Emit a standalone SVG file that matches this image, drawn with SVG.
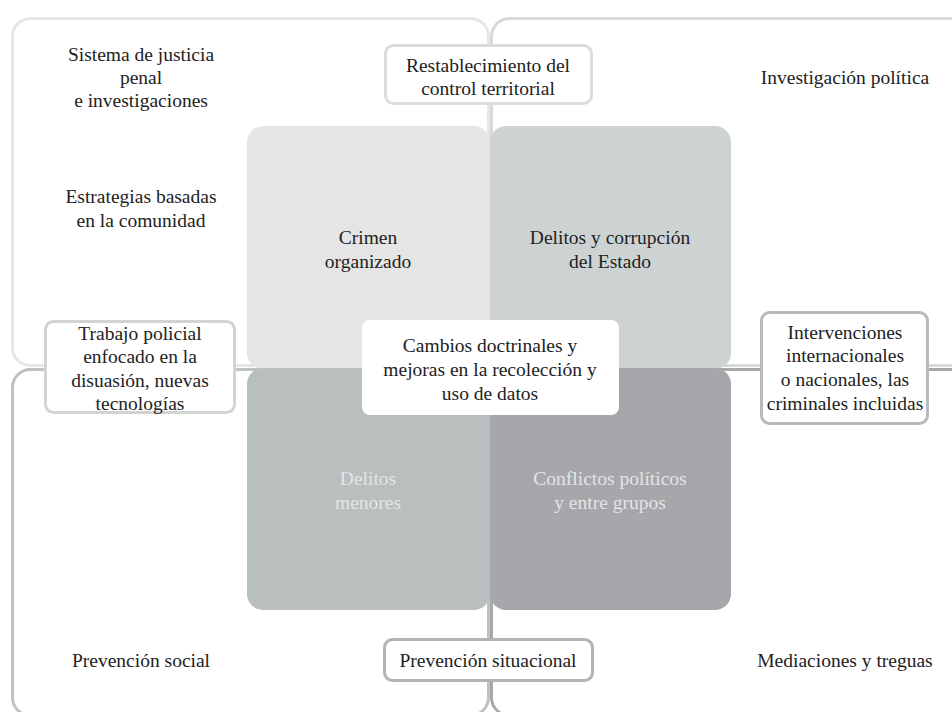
<svg xmlns="http://www.w3.org/2000/svg" width="952" height="712" viewBox="0 0 952 712">
<style>
.t text{font-family:"Liberation Serif","DejaVu Serif",serif;font-size:19.5px;fill:#222;text-anchor:middle}
.t text.lt{fill:#e2e5e5}
.lbl{fill:#fff;stroke-width:3}
.outer{fill:none;stroke-width:3}
</style>
<rect width="952" height="712" fill="#fff"/>
<g id="connectors">
<rect class="outer" x="12.5" y="18.5" width="476" height="347" rx="18" stroke="#e6e6e6"/>
<rect class="outer" x="491.5" y="18.5" width="490" height="347" rx="18" stroke="#d6dada"/>
<rect class="outer" x="12.5" y="369.5" width="476" height="346" rx="18" stroke="#bdc2c2"/>
<rect class="outer" x="491.5" y="369.5" width="490" height="346" rx="18" stroke="#a9a9ac"/>
</g>
<g class="t">
<g id="q-crimen"><rect x="247" y="126" width="243" height="243" rx="16" fill="#e5e5e5"/>
<text x="368" y="244">Crimen</text><text x="368" y="268">organizado</text></g>
<g id="q-estado"><rect x="490" y="126" width="241" height="243" rx="16" fill="#cdd3d3"/>
<text x="610" y="244">Delitos y corrupción</text><text x="610" y="268">del Estado</text></g>
<g id="q-menores"><rect x="247" y="368" width="243" height="242" rx="16" fill="#b9bfbe"/>
<text class="lt" x="368" y="485">Delitos</text><text class="lt" x="368" y="509">menores</text></g>
<g id="q-conflictos"><rect x="490" y="368" width="241" height="242" rx="16" fill="#a7a6ab"/>
<text class="lt" x="610" y="485">Conflictos políticos</text><text class="lt" x="610" y="509">y entre grupos</text></g>
<g id="t-justicia"><text x="141" y="61">Sistema de justicia</text><text x="141" y="84">penal</text><text x="141" y="107">e investigaciones</text></g>
<g id="t-comunidad"><text x="141" y="203">Estrategias basadas</text><text x="141" y="227">en la comunidad</text></g>
<g id="t-politica"><text x="845" y="84">Investigación política</text></g>
<g id="t-social"><text x="141" y="667">Prevención social</text></g>
<g id="t-mediaciones"><text x="845" y="667">Mediaciones y treguas</text></g>
<g id="b-territorial"><rect class="lbl" x="385.5" y="45.5" width="206" height="58" rx="8" stroke="#dcdcdc"/>
<text x="488" y="72">Restablecimiento del</text><text x="488" y="95">control territorial</text></g>
<g id="b-policial"><rect class="lbl" x="45.5" y="321.5" width="189" height="91" rx="8" stroke="#d2d4d4"/>
<text x="140" y="340">Trabajo policial</text><text x="140" y="363">enfocado en la</text><text x="140" y="387">disuasión, nuevas</text><text x="140" y="410">tecnologías</text></g>
<g id="b-cambios"><rect x="362" y="320" width="257" height="95" rx="8" fill="#fff"/>
<text x="490" y="352">Cambios doctrinales y</text><text x="490" y="376">mejoras en la recolección y</text><text x="490" y="400">uso de datos</text></g>
<g id="b-intervenciones"><rect class="lbl" x="761.5" y="312.5" width="166" height="111" rx="8" stroke="#b9bbbb"/>
<text x="845" y="339">Intervenciones</text><text x="845" y="362">internacionales</text><text x="845" y="386">o nacionales, las</text><text x="845" y="410">criminales incluidas</text></g>
<g id="b-situacional"><rect class="lbl" x="384.5" y="639.5" width="208" height="41" rx="8" stroke="#b3b3b3"/>
<text x="488" y="667">Prevención situacional</text></g>
</g>
</svg>
